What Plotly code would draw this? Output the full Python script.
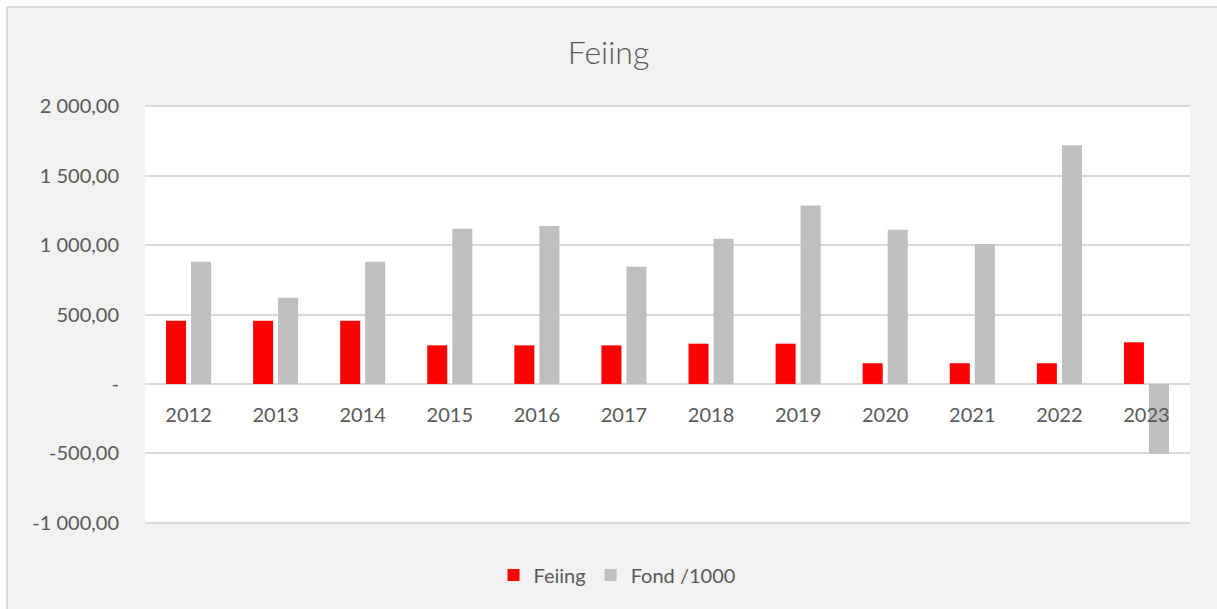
import plotly.graph_objects as go

years = ["2012", "2013", "2014", "2015", "2016", "2017", "2018", "2019", "2020", "2021", "2022", "2023"]
feiing = [455, 455, 455, 278, 278, 278, 290, 290, 149, 149, 149, 300]
fond_1000 = [880, 621, 880, 1117, 1137, 844, 1045, 1285, 1110, 1007, 1719, -504]

y_tickvals = [-1000, -500, 0, 500, 1000, 1500, 2000]
y_ticktext = ["-1 000,00", "-500,00", "-", "500,00", "1 000,00", "1 500,00", "2 000,00"]
y_range = [-1008, 2008]

W, H = 1217, 609
ml, mr, mt, mb = 145, 27, 105, 85
pw, ph = W - ml - mr, H - mt - mb

def px_x(p):
    return (p - ml) / pw

def px_y(p):
    return (H - mb - p) / ph

font_family = "Lato, 'Open Sans', sans-serif"
text_col = "#595959"
border_col = "#d9d9d9"

fig = go.Figure()
fig.add_trace(go.Bar(x=years, y=feiing, name="Feiing", marker=dict(color="#ff0000", line=dict(width=0))))
fig.add_trace(go.Bar(x=years, y=fond_1000, name="Fond /1000", marker=dict(color="#bfbfbf", line=dict(width=0))))

zero_frac = (0 - y_range[0]) / (y_range[1] - y_range[0])

shapes = [
    dict(type="rect", xref="paper", yref="paper", x0=px_x(-2), x1=px_x(W + 2), y0=px_y(6), y1=px_y(-2),
         fillcolor="#ffffff", line=dict(width=0), layer="above"),
    dict(type="rect", xref="paper", yref="paper", x0=px_x(-2), x1=px_x(6), y0=px_y(H + 2), y1=px_y(-2),
         fillcolor="#ffffff", line=dict(width=0), layer="above"),
    dict(type="line", xref="paper", yref="paper", x0=px_x(7), x1=px_x(W + 2), y0=px_y(7), y1=px_y(7),
         line=dict(color=border_col, width=2), layer="above"),
    dict(type="line", xref="paper", yref="paper", x0=px_x(7), x1=px_x(7), y0=px_y(7), y1=px_y(H + 2),
         line=dict(color=border_col, width=2), layer="above"),
]

fig.update_layout(
    width=W, height=H,
    margin=dict(l=ml, r=mr, t=mt, b=mb, autoexpand=False),
    paper_bgcolor="#f2f2f2",
    plot_bgcolor="#ffffff",
    barmode="group",
    bargap=0.425,
    bargroupgap=0.2,
    title=dict(text="Feiing", x=0.5, xref="container", xanchor="center", y=1 - 53 / H, yanchor="middle",
               font=dict(family=font_family, size=32, color=text_col, weight=300)),
    font=dict(family=font_family, color=text_col, size=20),
    legend=dict(orientation="h", xref="container", x=617 / W, xanchor="center", y=px_y(575), yanchor="middle",
                font=dict(size=20, color=text_col), bgcolor="rgba(0,0,0,0)", itemwidth=30),
    xaxis=dict(anchor="free", position=zero_frac, showgrid=False, showline=False, zeroline=False,
               ticks="", tickfont=dict(size=20, color=text_col), ticklabelstandoff=17),
    yaxis=dict(range=y_range, tickvals=y_tickvals, ticktext=y_ticktext, showgrid=True,
               gridcolor=border_col, gridwidth=1.7, zeroline=True, zerolinecolor=border_col, zerolinewidth=1.7,
               showline=False, ticks="", tickfont=dict(size=20, color=text_col), ticklabelstandoff=25),
    shapes=shapes,
    showlegend=True,
)

fig.write_html("out.html", config={"displayModeBar": False},
               post_script="document.body.style.margin='0';document.body.style.overflow='hidden';")
